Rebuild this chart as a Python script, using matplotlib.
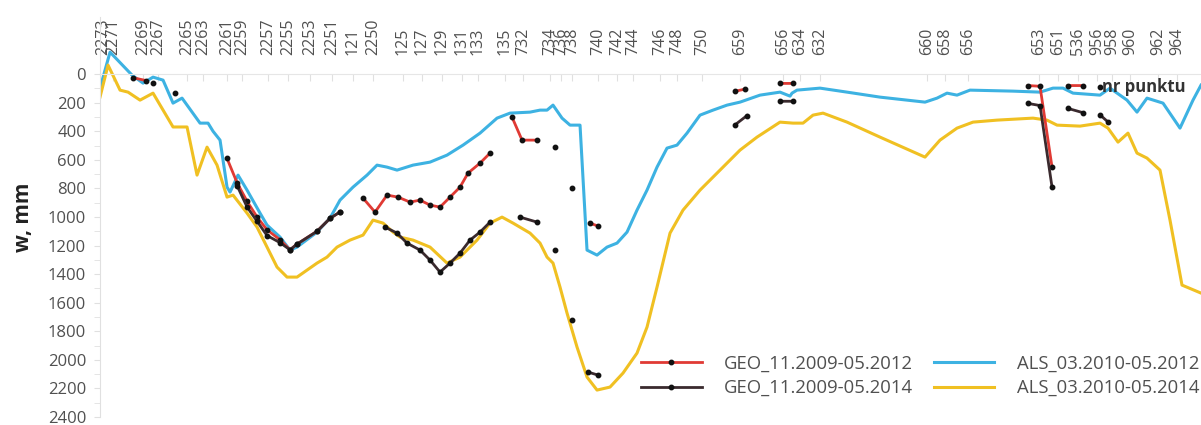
import numpy as np
import matplotlib
matplotlib.use("Agg")
from matplotlib import pyplot as plt

nan = np.nan

# point labels on the top axis and their position along the profile
point_labels = ['2273', '2271', '2269', '2267', '2265', '2263', '2261', '2259', '2257', '2255',
                '2253', '2251', '121', '2250', '125', '127', '129', '131', '133', '135',
                '732', '734', '736', '738', '740', '742', '744', '746', '748', '750',
                '659', '656', '634', '632', '660', '658', '656', '653', '651', '536',
                '956', '958', '960', '962', '964']
point_pos = [3, 13, 43, 58, 87, 103, 127, 142, 168, 188,
             210, 232, 253, 273, 303, 322, 342, 362, 378, 405,
             423, 450, 461, 472, 498, 517, 533, 560, 577, 602,
             640, 683, 700, 720, 827, 845, 868, 939, 958, 978,
             997, 1012, 1030, 1058, 1077]

# ALS profiles (distance, subsidence mm)
als12_x = [0, 10, 32, 43, 53, 63, 73, 82, 100, 108, 113, 120, 127, 130, 138, 147, 160, 167, 180, 190,
           197, 217, 230, 240, 253, 267, 277, 287, 297, 313, 330, 347, 363, 380, 397, 410, 430, 440,
           447, 453, 462, 470, 480, 487, 497, 507, 517, 527, 537, 547, 557, 567, 577, 587, 600, 613,
           627, 640, 660, 680, 690, 692, 697, 720, 747, 780, 825, 837, 847, 857, 870, 913, 940, 953,
           963, 973, 1000, 1010, 1027, 1037, 1047, 1063, 1080, 1093, 1101]
als12_y = [98, -154, 7, 63, 21, 42, 203, 168, 343, 343, 400, 462, 791, 826, 707, 812, 973, 1057, 1141, 1232,
           1211, 1106, 1008, 882, 791, 707, 637, 651, 672, 637, 616, 567, 497, 413, 308, 273, 266, 252,
           252, 217, 308, 357, 357, 1232, 1267, 1211, 1183, 1106, 952, 812, 651, 518, 497, 413, 287, 252,
           217, 196, 147, 126, 154, 133, 112, 98, 126, 161, 196, 168, 133, 147, 112, 119, 126, 98,
           98, 133, 147, 98, 182, 266, 168, 203, 378, 182, 77]

als14_x = [0, 8, 20, 28, 40, 53, 73, 87, 97, 107, 117, 127, 133, 147, 157, 167, 177, 187, 197, 207,
           217, 227, 237, 250, 263, 273, 283, 293, 300, 313, 330, 347, 360, 377, 390, 402, 413, 430,
           440, 447, 453, 460, 467, 477, 487, 497, 510, 523, 537, 547, 557, 570, 583, 600, 620, 640,
           657, 680, 693, 703, 713, 723, 747, 780, 825, 840, 857, 873, 897, 933, 947, 957, 980, 1000,
           1008, 1018, 1028, 1037, 1047, 1060, 1070, 1082, 1101]
als14_y = [160, -63, 112, 126, 182, 133, 370, 370, 707, 511, 637, 861, 847, 973, 1071, 1211, 1351, 1421, 1421, 1372,
           1323, 1281, 1211, 1162, 1127, 1022, 1043, 1106, 1141, 1162, 1211, 1323, 1281, 1162, 1043, 1001, 1043, 1113,
           1183, 1281, 1323, 1491, 1673, 1911, 2121, 2212, 2191, 2093, 1953, 1771, 1491, 1113, 952, 812, 672, 532,
           441, 336, 343, 343, 287, 273, 336, 441, 581, 462, 378, 336, 322, 308, 322, 357, 364, 343,
           378, 476, 413, 553, 588, 672, 1022, 1477, 1533]

# GEO levelling points (nan = break between sections)
geo12_x = [33, 46, nan, 127, 137, 147, 157, 167, 180, 190, 197, 217, 230, 240, nan,
           263, 275, 287, 298, 310, 320, 330, 340, 350, 360, 368, 380, 390, nan,
           412, 422, 437, nan, 455, nan, 472, nan, 490, 498, nan, 635, 645, nan,
           680, 693, nan, 928, 940, 952, nan, 968, 983, nan, 1000]
geo12_y = [25, 45, nan, 590, 760, 890, 1000, 1090, 1160, 1230, 1190, 1100, 1010, 965, nan,
           868, 966, 847, 861, 896, 882, 917, 931, 861, 791, 693, 623, 553, nan,
           301, 462, 462, nan, 511, nan, 798, nan, 1043, 1064, nan, 120, 105, nan,
           65, 65, nan, 80, 85, 650, nan, 80, 80, nan, 90]

geo14_x = [53, nan, 75, nan, 137, 147, 157, 167, 180, 190, 197, 217, 230, 240, nan,
           285, 297, 307, 320, 330, 340, 350, 360, 370, 380, 390, nan,
           420, 437, nan, 455, nan, 472, nan, 488, 498, nan, 635, 647, nan,
           680, 693, nan, 928, 940, 952, nan, 968, 983, nan, 1000, 1008]
geo14_y = [60, nan, 130, nan, 780, 930, 1030, 1130, 1180, 1230, 1190, 1100, 1010, 965, nan,
           1071, 1113, 1183, 1232, 1302, 1386, 1323, 1253, 1162, 1106, 1036, nan,
           1001, 1036, nan, 1232, nan, 1722, nan, 2086, 2107, nan, 355, 290, nan,
           190, 190, nan, 205, 220, 790, nan, 240, 270, nan, 285, 335]

plt.rcParams['font.family'] = ['Open Sans', 'DejaVu Sans']

fig = plt.figure(figsize=(12.01, 4.25), dpi=100)
ax = fig.add_axes([0.0833, 0.019, 0.9167, 0.941])

ax.plot(als12_x, als12_y, color='#3DB2E2', lw=2.2, label='ALS_03.2010-05.2012', zorder=2)
ax.plot(als14_x, als14_y, color='#F0C022', lw=2.2, label='ALS_03.2010-05.2014', zorder=2)
ax.plot(geo12_x, geo12_y, color='#E03A34', lw=2.0, marker='o', ms=3.2,
        mfc='#111111', mec='#111111', label='GEO_11.2009-05.2012', zorder=3)
ax.plot(geo14_x, geo14_y, color='#3A2A2E', lw=2.0, marker='o', ms=3.2,
        mfc='#111111', mec='#111111', label='GEO_11.2009-05.2014', zorder=4)

ax.set_xlim(0, 1101)
ax.set_ylim(2400, -400)
ax.set_yticks(range(0, 2401, 200))
ax.set_yticks(range(100, 2400, 200), minor=True)
ax.tick_params(axis='y', which='both', labelsize=12, colors='#E0E0E0', labelcolor='#505050',
               length=4, pad=6)

ax.xaxis.set_ticks_position('top')
ax.set_xticks(point_pos)
ax.set_xticklabels(point_labels)
ax.tick_params(axis='x', which='both', labelsize=11.5, colors='#E0E0E0', labelcolor='#505050',
               length=5, pad=14, direction='in', labelrotation=90)

for s in ['right', 'bottom']:
    ax.spines[s].set_visible(False)
ax.spines['top'].set_position(('data', 0))
ax.spines['top'].set_color('#E6E6E6')
ax.spines['left'].set_color('#E0E0E0')

ax.set_ylabel('w, mm', fontsize=15, fontweight='bold', color='#222222', labelpad=10)
ax.text(1002, 92, 'nr punktu', fontsize=12, fontweight='bold', color='#333333',
        va='center', ha='left', zorder=5)

h, l = ax.get_legend_handles_labels()
order = [2, 3, 0, 1]
ax.legend([h[i] for i in order], [l[i] for i in order], ncol=2, loc='lower right',
          bbox_to_anchor=(1.0, 0.045), frameon=False, fontsize=13.3, handlelength=3.3,
          handletextpad=1.2, columnspacing=1.1, labelspacing=0.35, numpoints=1,
          borderaxespad=0, borderpad=0.1, labelcolor='#505050')

plt.savefig('out.png', dpi=100)
